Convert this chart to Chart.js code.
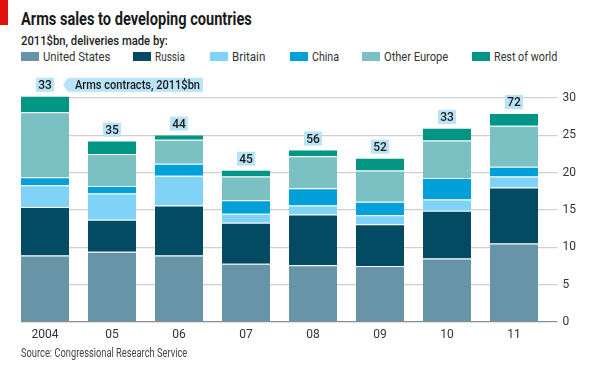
<!DOCTYPE html>
<html>
<head>
<meta charset="utf-8">
<script src="https://cdn.jsdelivr.net/npm/chart.js@4.4.1/dist/chart.umd.min.js"></script>
<style>
body{margin:0;background:#fff}
#wrap{position:relative;width:595px;height:367px;overflow:hidden;font-family:Roboto,sans-serif;color:#1a1a1a}
#chart{position:absolute;left:0;top:0}
.red{position:absolute;left:0;top:0;width:8px;height:25px;background:#e3120b}
.fit{position:absolute;white-space:nowrap;transform-origin:0 50%}
.title{left:21px;top:8px;font-size:18px;font-weight:bold}
.sub{left:21px;top:33px;font-size:13px;font-weight:500;color:#222}
.leg{top:49px;font-size:13px;color:#333}
.sw{position:absolute;top:52px;width:18px;height:9px}
.src{left:21px;top:346px;font-size:12px;color:#444}
</style>
</head>
<body>
<div id="wrap">
<div class="red"></div>
<div class="fit title" data-w="231">Arms sales to developing countries</div>
<div class="fit sub" data-w="147">2011$bn, deliveries made by:</div>
<div id="legend"></div>
<canvas id="chart" width="595" height="367"></canvas>
<div class="fit src" data-w="166">Source: Congressional Research Service</div>
</div>
<script>
const years = ["2004", "05", "06", "07", "08", "09", "10", "11"]

const unitedStates = [8.9, 9.4, 8.9, 7.8, 7.6, 7.5, 8.5, 10.5]
const russia       = [6.5, 4.3, 6.7, 5.5, 6.8, 5.6, 6.4, 7.5]
const britain      = [2.9, 3.5, 4.0, 1.2, 1.2, 1.2, 1.5, 1.5]
const china        = [1.1, 1.0, 1.6, 1.8, 2.3, 1.8, 2.9, 1.3]
const otherEurope  = [8.7, 4.3, 3.2, 3.2, 4.3, 4.2, 5.0, 5.5]
const restOfWorld  = [2.2, 1.8, 0.7, 0.9, 0.9, 1.7, 1.7, 1.7]

const contracts = [33, 35, 44, 45, 56, 52, 33, 72]

const yTicks = [0, 5, 10, 15, 20, 25, 30]

const seriesNames = ["United States", "Russia", "Britain", "China", "Other Europe", "Rest of world"]
const seriesData = [unitedStates, russia, britain, china, otherEurope, restOfWorld]
const seriesColors = ["#6894a8", "#024b63", "#80d3f6", "#00a1db", "#7bc0c2", "#009584"]

// legend layout: swatch left, text width
const legendLeft = [21, 133, 210, 290, 362, 472]
const legendTextW = [67, 30, 33, 27, 64, 63]

const FONT = "Roboto, sans-serif"

// squeeze text to the width of the condensed original face
function fitWidth(el, w){
    const s = w / el.offsetWidth
    el.style.transform = `scaleX(${s})`
}

const legend = document.getElementById("legend")
seriesNames.forEach((name, i) => {
    const sw = document.createElement("div")
    sw.className = "sw"
    sw.style.left = legendLeft[i] + "px"
    sw.style.background = seriesColors[i]
    legend.appendChild(sw)

    const t = document.createElement("div")
    t.className = "fit leg"
    t.style.left = (legendLeft[i] + 22) + "px"
    t.textContent = name
    t.dataset.w = legendTextW[i]
    legend.appendChild(t)
})

document.querySelectorAll(".fit").forEach(el => fitWidth(el, +el.dataset.w))

// hide gridline bits left of the first bar
const leftMask = {
    id: "leftMask",
    beforeDatasetsDraw(chart){
        const first = chart.getDatasetMeta(0).data[0]
        const a = chart.chartArea
        const ctx = chart.ctx
        ctx.save()
        ctx.fillStyle = "#fff"
        ctx.fillRect(0, a.top - 3, first.x - first.width / 2, a.bottom - a.top + 6)
        ctx.restore()
    }
}

// contract value boxes on top of each bar
const contractLabels = {
    id: "contractLabels",
    afterDatasetsDraw(chart){
        const ctx = chart.ctx
        const top = chart.getDatasetMeta(seriesData.length - 1)
        top.data.forEach((bar, i) => {
            const cy = bar.y - 11
            ctx.save()
            ctx.textBaseline = "middle"
            ctx.fillStyle = "#b9e3f6"
            ctx.fillRect(bar.x - 9, cy - 7, 18, 14)
            ctx.fillStyle = "#1a1a1a"
            ctx.font = "500 12px " + FONT
            ctx.textAlign = "center"
            ctx.fillText(contracts[i], bar.x, cy + 1)

            if(i === 0){
                const bx = bar.x + 23
                ctx.fillStyle = "#b9e3f6"
                ctx.beginPath()
                ctx.moveTo(bar.x + 18, cy)
                ctx.lineTo(bx, cy - 7)
                ctx.lineTo(bx, cy + 7)
                ctx.closePath()
                ctx.fill()
                ctx.fillRect(bx, cy - 7, 135, 14)

                const txt = "Arms contracts, 2011$bn"
                ctx.font = "500 13px " + FONT
                ctx.textAlign = "left"
                const s = 125 / ctx.measureText(txt).width
                ctx.translate(bx + 7, cy + 1)
                ctx.scale(s, 1)
                ctx.fillStyle = "#1a1a1a"
                ctx.fillText(txt, 0, 0)
            }
            ctx.restore()
        })
    }
}

new Chart(document.getElementById("chart"), {
    type: "bar",
    data: {
        labels: years,
        datasets: seriesNames.map((name, i) => ({
            label: name,
            data: seriesData[i],
            backgroundColor: seriesColors[i],
            borderColor: "rgba(255,255,255,0.3)",
            borderWidth: { top: 1, left: 0, right: 0, bottom: 0 },
            borderSkipped: false,
            barPercentage: 48 / 67,
            categoryPercentage: 1,
            clip: false
        }))
    },
    options: {
        responsive: false,
        animation: false,
        layout: {
            padding: { top: 98, left: 11.5, right: 0, bottom: 0 }
        },
        plugins: {
            legend: { display: false },
            tooltip: { enabled: false }
        },
        scales: {
            x: {
                stacked: true,
                grid: { display: false, drawTicks: false },
                border: { display: false },
                ticks: {
                    color: "#333",
                    font: { family: FONT, size: 12 },
                    padding: 6,
                    maxRotation: 0
                },
                afterFit(s){ s.height = 45 }
            },
            y: {
                stacked: true,
                position: "right",
                min: 0,
                max: 30,
                afterBuildTicks(s){ s.ticks = yTicks.map(v => ({ value: v })) },
                grid: {
                    color: (c) => c.tick && c.tick.value === 0 ? "#8c8c8c" : "#cfcfcf",
                    lineWidth: 1.2,
                    tickLength: 10,
                    drawTicks: true
                },
                border: { display: false },
                ticks: {
                    color: "#333",
                    font: { family: FONT, size: 12 },
                    padding: 5
                },
                afterFit(s){ s.width = 47.5 }
            }
        }
    },
    plugins: [leftMask, contractLabels]
})
</script>
</body>
</html>
